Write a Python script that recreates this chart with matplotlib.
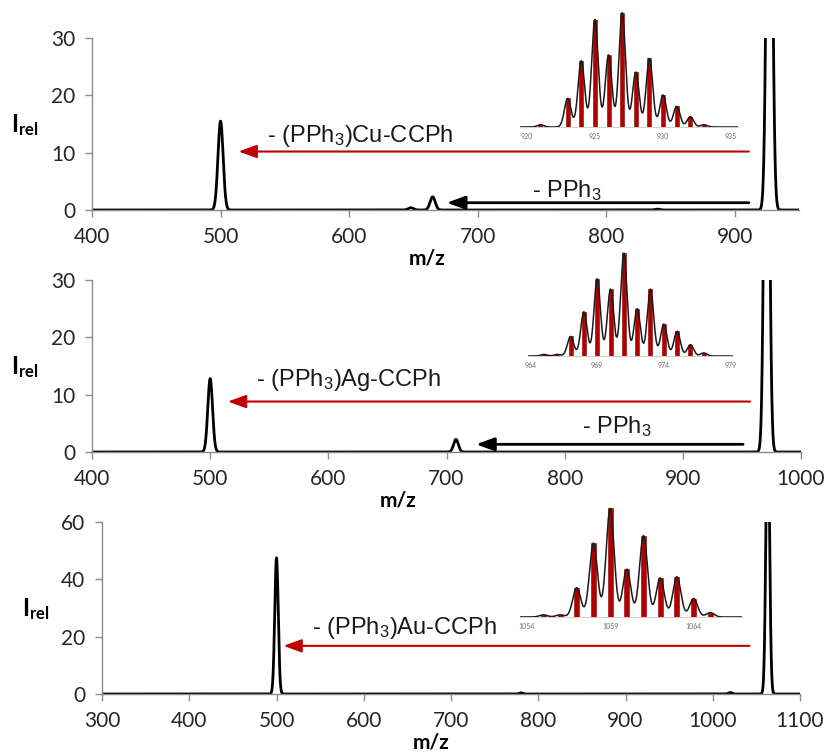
import numpy as np
import matplotlib
matplotlib.use("Agg")
from matplotlib import pyplot as plt

# ======================
# Datos
# ======================
# Espectros completos: centro m/z e intensidad relativa de cada pico
cu_mz = [500, 648, 665, 840, 927]
cu_int = [15.5, 0.4, 2.3, 0.15, 100]
ag_mz = [500, 708, 971]
ag_int = [12.8, 2.2, 100]
au_mz = [500, 780, 1020, 1063]
au_int = [47.5, 0.4, 0.5, 100]

# Patrones isotópicos (recuadros), intensidad normalizada
cu_iso_mz = [921, 923, 924, 925, 926, 927, 928, 929, 930, 931, 932, 933]
cu_iso_int = [0.02, 0.25, 0.58, 0.94, 0.63, 1.0, 0.48, 0.60, 0.28, 0.18, 0.09, 0.02]
ag_iso_mz = [965, 966, 967, 968, 969, 970, 971, 972, 973, 974, 975, 976, 977]
ag_iso_int = [0.015, 0.015, 0.19, 0.43, 0.75, 0.65, 1.0, 0.46, 0.65, 0.31, 0.24, 0.11, 0.03]
au_iso_mz = [1055, 1056, 1057, 1058, 1059, 1060, 1061, 1062, 1063, 1064, 1065]
au_iso_int = [0.02, 0.02, 0.27, 0.68, 1.0, 0.44, 0.75, 0.36, 0.37, 0.17, 0.04]

# Ejes
x_limits = [(400, 950), (400, 1000), (300, 1100)]
x_ticks = [[400, 500, 600, 700, 800, 900],
           [400, 500, 600, 700, 800, 900, 1000],
           [300, 400, 500, 600, 700, 800, 900, 1000, 1100]]
y_limits = [(0, 30), (0, 30), (0, 60)]
y_ticks = [[0, 10, 20, 30], [0, 10, 20, 30], [0, 20, 40, 60]]
iso_ticks = [[920, 925, 930, 935], [964, 969, 974, 979], [1054, 1059, 1064]]

# Pérdidas (flechas): texto, punta, cola, y de la flecha, posición del texto
loss_labels = [r"- (PPh$_3$)Cu-CCPh", r"- (PPh$_3$)Ag-CCPh", r"- (PPh$_3$)Au-CCPh"]
loss_tip = [514, 515, 508]
loss_tail = [911, 957, 1042]
loss_y = [10.2, 8.8, 16.8]
loss_text = [(536, 11.9), (539, 11.5), (541, 20.9)]
pph3_tip = [676, 725]
pph3_tail = [911, 951]
pph3_y = [1.27, 1.34]
pph3_text = [(742, 2.3), (815, 3.3)]

# ======================
# Estilo
# ======================
plt.rcParams["font.family"] = ["Lato", "DejaVu Sans"]
plt.rcParams["mathtext.fontset"] = "custom"
plt.rcParams["mathtext.rm"] = "Liberation Sans"
plt.rcParams["mathtext.it"] = "Liberation Sans:italic"
plt.rcParams["mathtext.bf"] = "Lato:bold"

ROJO = "#C00000"
GRIS = "#8c8c8c"
SIGMA = 2.0        # ancho de los picos del espectro completo
SIGMA_ISO = 0.24   # ancho de los picos del recuadro


def perfil(x, centros, alturas, sigma):
    y = np.zeros_like(x)
    for c, h in zip(centros, alturas):
        y += h * np.exp(-(x - c) ** 2 / (2 * sigma ** 2))
    return y


fig = plt.figure(figsize=(8.29, 7.52), dpi=100)
W, H = 829, 752


def caja(x0, x1, y_bottom, y_top):
    # pixeles -> fracción de figura
    return [x0 / W, 1 - y_bottom / H, (x1 - x0) / W, (y_bottom - y_top) / H]


main_boxes = [caja(92, 799, 210, 38), caja(92, 801, 452, 280), caja(102, 800, 694, 522)]
iso_boxes = [caja(520, 738, 127, 7), caja(528, 733, 356, 248), caja(520, 742, 617, 503)]
iso_xlim = [(919.5, 935.5), (963.8, 979.2), (1053.6, 1066.9)]
xlabel_x = [0.474, 0.432, 0.471]

espectros = [(cu_mz, cu_int), (ag_mz, ag_int), (au_mz, au_int)]
isotopos = [(cu_iso_mz, cu_iso_int), (ag_iso_mz, ag_iso_int), (au_iso_mz, au_iso_int)]

for i in range(3):
    ax = fig.add_axes(main_boxes[i])
    mz, inten = espectros[i]
    x = np.linspace(x_limits[i][0], x_limits[i][1], 6000)
    ax.plot(x, perfil(x, mz, inten, SIGMA), color="black", lw=2)

    ax.set_xlim(*x_limits[i])
    ax.set_ylim(*y_limits[i])
    ax.set_xticks(x_ticks[i])
    ax.set_yticks(y_ticks[i])
    for s in ["top", "right"]:
        ax.spines[s].set_visible(False)
    for s in ["left", "bottom"]:
        ax.spines[s].set_color(GRIS)
        ax.spines[s].set_linewidth(1)
    ax.tick_params(direction="out", length=5, width=1, color=GRIS,
                   labelsize=15, labelcolor="#262626", pad=7)
    ax.set_xlabel("m/z", fontsize=15, fontweight="bold", labelpad=0)
    ax.xaxis.set_label_coords(xlabel_x[i], -0.225)
    ax.set_ylabel(r"$\mathbf{I}_{\mathbf{rel}}$", fontsize=17, rotation=0)
    ax.yaxis.set_label_coords(-0.095, 0.42)

    # flecha roja: pérdida de (PPh3)M-CCPh
    ax.annotate("", xy=(loss_tip[i], loss_y[i]), xytext=(loss_tail[i], loss_y[i]),
                arrowprops=dict(arrowstyle="-|>,head_length=0.55,head_width=0.2",
                                color=ROJO, lw=1.5, mutation_scale=20,
                                shrinkA=0, shrinkB=0))
    ax.text(loss_text[i][0], loss_text[i][1], loss_labels[i], fontsize=17,
            family="Liberation Sans", ha="left", va="baseline", color="#1a1a1a")

    # flecha negra: pérdida de PPh3
    if i < 2:
        ax.annotate("", xy=(pph3_tip[i], pph3_y[i]), xytext=(pph3_tail[i], pph3_y[i]),
                    arrowprops=dict(arrowstyle="-|>,head_length=0.55,head_width=0.2",
                                    color="black", lw=2, mutation_scale=20,
                                    shrinkA=0, shrinkB=0))
        ax.text(pph3_text[i][0], pph3_text[i][1], r"- PPh$_3$", fontsize=17,
                family="Liberation Sans", ha="left", va="baseline", color="#1a1a1a")

    # recuadro con el patrón isotópico
    ins = fig.add_axes(iso_boxes[i])
    ins.patch.set_alpha(0)
    imz, iint = isotopos[i]
    xi = np.linspace(iso_xlim[i][0], iso_xlim[i][1], 2000)
    ins.bar(imz, iint, width=0.3, color="#B00000", edgecolor="#8a0000", lw=0.4)
    ins.plot(xi, perfil(xi, imz, iint, SIGMA_ISO), color="#1a1a1a", lw=1.1)
    ins.set_xlim(*iso_xlim[i])
    ins.set_ylim(0, 1.05)
    ins.set_xticks(iso_ticks[i])
    ins.set_yticks([])
    for s in ["top", "right", "left"]:
        ins.spines[s].set_visible(False)
    ins.spines["bottom"].set_color("#c8c8c8")
    ins.spines["bottom"].set_linewidth(0.6)
    ins.tick_params(length=0, labelsize=5, labelcolor="#6e6e6e", pad=4)

plt.savefig("out.png", dpi=100)
